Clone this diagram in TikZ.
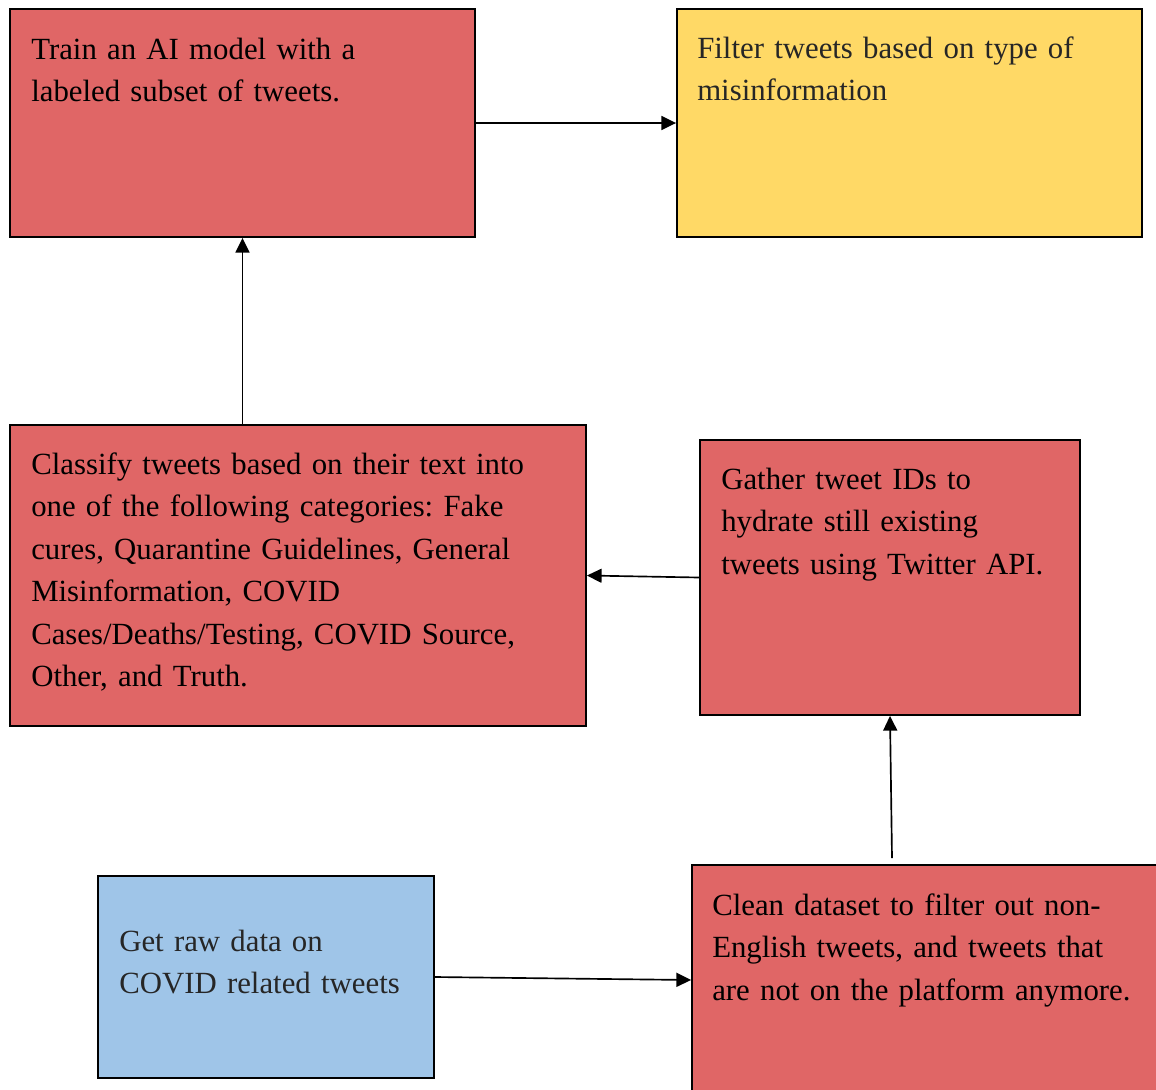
\documentclass[tikz,border=0pt]{standalone}
\usepackage{fontspec}
\setmainfont{Liberation Serif}
\usetikzlibrary{arrows.meta}
\definecolor{boxred}{HTML}{E06666}
\definecolor{boxyellow}{HTML}{FFD966}
\definecolor{boxblue}{HTML}{9FC5E8}
\definecolor{darktext}{HTML}{262626}
\newcommand{\myboxfont}{\fontsize{23.1}{31.9}\selectfont\frenchspacing\spaceskip=\fontdimen2\font\relax}
\tikzset{
  stepbox/.style={draw=black, line width=1.4pt, rectangle, inner sep=0pt},
  boxtext/.style={anchor=base west, inner sep=0pt, align=left, text width=#1,
    font=\myboxfont},
  flow/.style={line width=1.25pt, -{Triangle[length=11pt,width=10.5pt]}}
}
\begin{document}
\begin{tikzpicture}[x=0.75pt,y=-0.75pt]
\useasboundingbox (0,0) rectangle (1156,1089);
\clip (0,0) rectangle (1156,1089);
% boxes
\node[stepbox, fill=boxred, minimum width=465*0.75pt, minimum height=228*0.75pt] (A) at (242.5,123) {};
\node[stepbox, fill=boxyellow, minimum width=465*0.75pt, minimum height=228*0.75pt] (B) at (909.5,123) {};
\node[stepbox, fill=boxred, minimum width=576*0.75pt, minimum height=301*0.75pt] (C) at (298,575.5) {};
\node[stepbox, fill=boxred, minimum width=380*0.75pt, minimum height=275*0.75pt] (D) at (890,577.5) {};
\node[stepbox, fill=boxblue, minimum width=336*0.75pt, minimum height=202*0.75pt] (E) at (266,977) {};
\node[stepbox, fill=boxred, minimum width=480*0.75pt, minimum height=230*0.75pt] (F) at (932,980) {};
% texts
\node[boxtext=440*0.75pt] (tA) at (31,59) {Train an AI model with a\\labeled subset of tweets.};
\node[boxtext=440*0.75pt, text=darktext] (tB) at (697,58) {Filter tweets based on type of\\misinformation};
\node[boxtext=560*0.75pt] (tC) at (31,474) {Classify tweets based on their text into\\one of the following categories: Fake\\cures, Quarantine Guidelines, General\\Misinformation, COVID\\Cases/Deaths/Testing, COVID Source,\\Other, and Truth.};
\node[boxtext=360*0.75pt] (tD) at (721,489) {Gather tweet IDs to\\hydrate still existing\\tweets using Twitter API.};
\node[boxtext=310*0.75pt, text=darktext] (tE) at (119,951) {Get raw data on\\COVID related tweets};
\node[boxtext=440*0.75pt] (tF) at (712,915) {Clean dataset to filter out non-\\English tweets, and tweets that\\are not on the platform anymore.};
% connectors
\coordinate (fstart) at (892,858);
\draw[flow] (A.east) -- (B.west);
\draw[flow] (A.south |- C.north) -- (A.south);
\draw[flow] (D.west) -- (C.east);
\draw[flow] (fstart) -- (D.south);
\draw[flow] (E.east) -- (F.west);
\end{tikzpicture}
\end{document}
